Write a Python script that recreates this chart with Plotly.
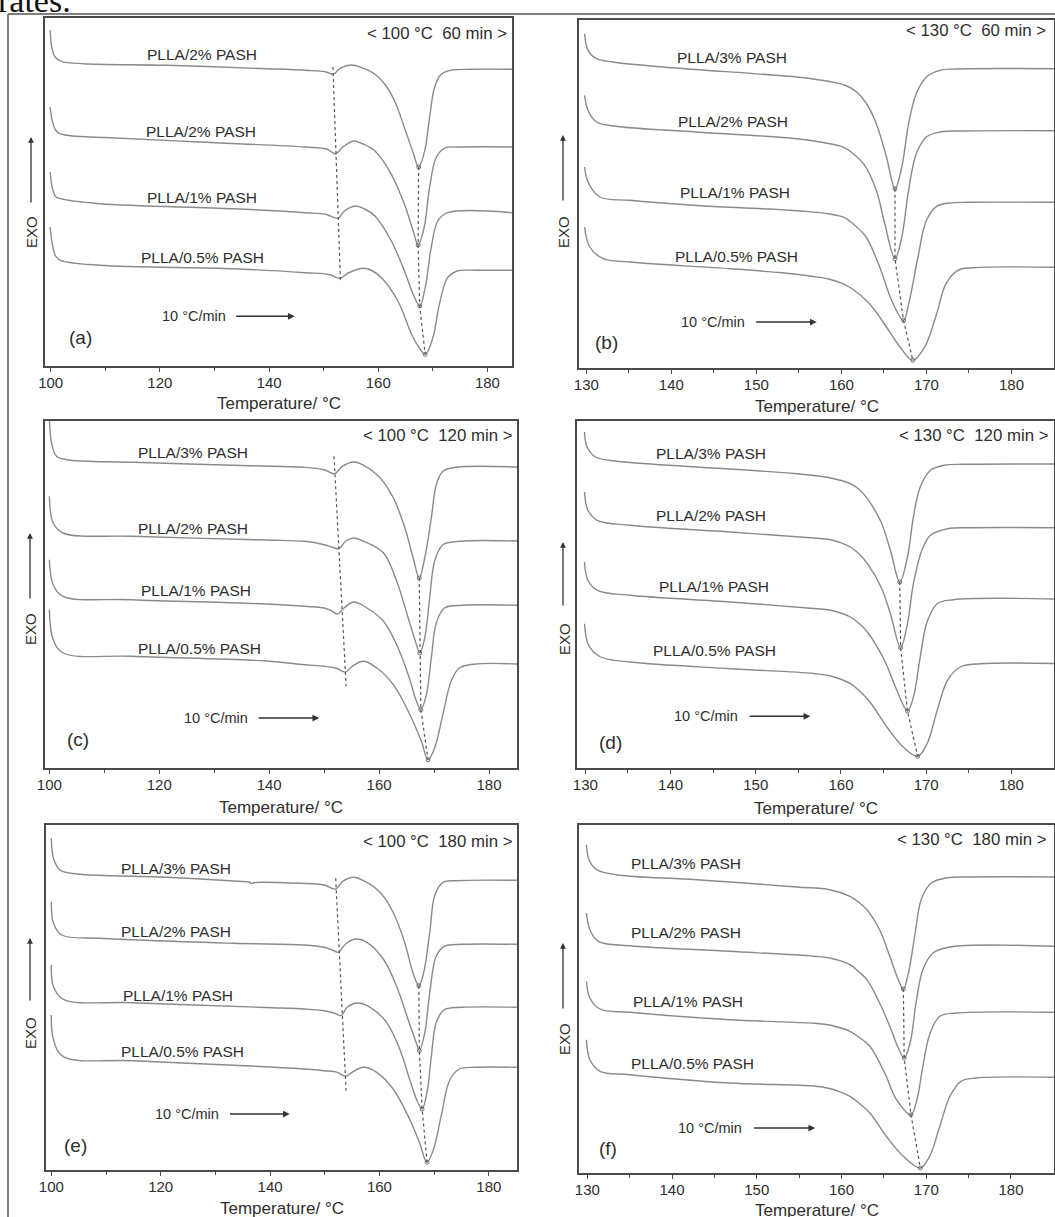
import plotly.graph_objects as go

# Heat-flow traces: temperature (°C) and signal (a.u., exo up), one pair per sample.
# (a) 100 °C / 60 min
A1_T = [99.9, 100.2, 100.8, 102.0, 106.0, 121.2, 139.5, 146.7, 150.3, 151.8, 153.0, 155.2, 157.0, 159.4, 161.2, 163.0, 164.8, 166.4, 167.4, 168.5, 169.4, 170.3, 171.5, 173.3, 177.0, 184.5]
A1_Y = [335.7, 319.0, 309.0, 304.7, 302.3, 300.7, 297.3, 295.7, 294.3, 291.7, 297.7, 301.0, 298.3, 291.7, 281.7, 265.0, 238.3, 213.3, 199.0, 215.0, 248.3, 278.3, 291.7, 295.7, 296.7, 296.7]
A2_T = [99.9, 100.3, 100.9, 101.7, 104.0, 110.0, 127.3, 146.7, 150.5, 152.2, 153.5, 155.5, 157.2, 159.4, 162.4, 164.8, 166.4, 167.3, 168.4, 169.4, 170.6, 172.1, 175.8, 184.5]
A2_Y = [259.0, 245.0, 236.0, 232.3, 230.0, 228.5, 224.0, 219.0, 217.0, 212.3, 219.0, 225.0, 222.0, 215.0, 191.7, 161.7, 135.0, 121.0, 138.3, 178.3, 208.3, 217.7, 219.0, 219.0]
A3_T = [99.9, 100.3, 100.9, 101.8, 109.0, 133.4, 146.7, 150.5, 152.6, 153.8, 155.8, 157.5, 159.4, 162.4, 164.8, 166.4, 167.6, 168.6, 169.7, 170.9, 172.7, 184.5]
A3_Y = [194.0, 178.0, 169.5, 167.3, 162.3, 157.3, 153.3, 151.5, 147.7, 155.0, 160.0, 157.0, 150.0, 125.0, 95.0, 71.7, 60.0, 78.3, 118.3, 145.0, 153.3, 153.3]
A4_T = [99.9, 100.3, 100.9, 101.8, 109.0, 133.4, 146.7, 151.0, 153.0, 154.5, 157.3, 158.8, 160.6, 163.6, 166.1, 167.3, 168.6, 170.0, 171.2, 172.7, 174.5, 178.2, 184.5]
A4_Y = [139.0, 122.0, 110.0, 105.7, 100.7, 97.3, 93.3, 91.5, 87.7, 93.0, 97.7, 95.5, 88.3, 65.0, 31.7, 20.0, 11.7, 28.3, 61.7, 88.3, 95.0, 95.7, 95.7]
A_DIP_T = [151.7, 153.1]
A_DIP_Y = [299.0, 83.0]

# (b) 130 °C / 60 min
B1_T = [129.8, 130.2, 131.2, 133.1, 139.0, 150.8, 155.0, 158.6, 160.5, 161.8, 162.9, 164.1, 165.3, 166.3, 167.1, 167.9, 168.8, 170.0, 171.6, 173.5, 185.0]
B1_Y = [334.3, 317.7, 309.3, 306.0, 301.0, 293.7, 290.8, 286.5, 282.5, 276.0, 265.0, 244.3, 211.0, 179.3, 201.0, 244.3, 274.3, 291.0, 297.7, 299.0, 299.3]
B2_T = [129.8, 130.2, 131.2, 133.5, 142.9, 154.7, 158.6, 160.2, 161.6, 162.6, 164.1, 165.1, 166.3, 167.1, 167.9, 168.8, 170.0, 171.6, 174.3, 185.0]
B2_Y = [272.7, 257.7, 246.0, 241.7, 236.0, 229.3, 224.3, 220.8, 212.8, 204.3, 177.7, 144.3, 109.3, 131.0, 177.7, 214.3, 231.0, 236.0, 237.0, 237.3]
B3_T = [129.8, 130.2, 131.6, 135.1, 143.0, 150.8, 155.5, 158.6, 160.3, 161.6, 162.9, 164.5, 165.9, 167.3, 168.0, 169.0, 170.0, 171.2, 172.7, 175.1, 185.0]
B3_Y = [201.0, 186.0, 171.0, 167.7, 162.5, 159.3, 156.8, 154.0, 150.6, 142.5, 131.0, 101.0, 67.7, 47.7, 67.7, 111.0, 147.7, 161.7, 165.0, 165.7, 165.7]
B4_T = [129.8, 130.4, 132.0, 135.1, 146.9, 153.0, 156.7, 158.6, 160.0, 161.3, 163.3, 165.3, 166.9, 168.4, 169.8, 171.2, 172.3, 173.7, 175.5, 185.0]
B4_Y = [141.0, 121.0, 109.3, 106.0, 99.3, 95.2, 91.5, 88.8, 84.8, 79.0, 64.3, 41.0, 21.0, 7.7, 21.0, 54.3, 84.3, 97.7, 100.3, 100.7]

# (c) 100 °C / 120 min
C1_T = [100.0, 100.4, 101.3, 103.2, 115.3, 136.5, 146.4, 150.0, 151.9, 153.3, 155.4, 157.2, 160.2, 162.6, 164.7, 166.2, 167.3, 168.3, 169.5, 170.4, 171.6, 174.0, 185.1]
C1_Y = [350.0, 325.0, 311.7, 308.3, 305.7, 302.3, 300.7, 298.3, 294.3, 301.7, 306.0, 302.7, 290.0, 270.0, 240.0, 210.0, 190.0, 210.0, 250.0, 283.3, 296.7, 300.7, 301.0]
C2_T = [100.0, 100.7, 102.5, 115.0, 139.5, 146.4, 150.0, 151.5, 152.7, 153.9, 155.4, 157.2, 160.8, 163.2, 165.3, 166.8, 167.4, 168.3, 169.2, 170.1, 171.6, 174.6, 185.1]
C2_Y = [271.7, 245.0, 235.0, 231.7, 228.0, 226.7, 223.3, 220.7, 219.3, 226.7, 230.0, 226.7, 215.0, 186.7, 150.0, 123.3, 115.0, 130.0, 170.0, 206.7, 223.3, 226.7, 227.0]
C3_T = [100.0, 100.7, 102.5, 115.0, 139.5, 146.4, 150.0, 151.5, 152.4, 153.6, 155.4, 157.8, 160.8, 163.2, 165.3, 166.8, 167.6, 168.6, 169.5, 170.4, 171.9, 175.2, 185.1]
C3_Y = [208.3, 183.3, 171.7, 168.3, 164.0, 161.7, 160.0, 156.7, 154.0, 160.0, 166.0, 160.0, 146.7, 123.3, 93.3, 66.7, 58.3, 73.3, 110.0, 145.0, 160.0, 162.7, 162.7]
C4_T = [100.0, 100.7, 102.5, 115.0, 139.5, 146.4, 150.0, 152.1, 153.9, 155.1, 157.2, 159.6, 162.6, 165.6, 167.7, 168.9, 170.1, 171.6, 173.1, 174.6, 177.6, 185.1]
C4_Y = [158.3, 128.3, 115.0, 111.7, 107.0, 103.3, 101.7, 100.0, 96.0, 101.7, 106.7, 100.0, 83.3, 53.3, 26.7, 8.3, 20.0, 53.3, 86.7, 100.0, 104.0, 104.0]
C_DIP_T = [151.8, 154.0]
C_DIP_Y = [311.7, 81.7]

# (d) 130 °C / 120 min
D1_T = [129.9, 130.2, 131.2, 133.7, 143.1, 154.8, 158.8, 161.1, 162.2, 163.1, 164.7, 165.8, 166.9, 167.8, 168.5, 169.3, 170.5, 172.1, 174.4, 185.0]
D1_Y = [336.0, 321.0, 311.0, 306.7, 301.0, 294.3, 290.0, 284.3, 278.0, 269.3, 246.0, 217.7, 186.0, 211.0, 251.0, 281.0, 297.7, 302.7, 303.7, 304.0]
D2_T = [129.9, 130.3, 131.4, 135.3, 147.0, 156.8, 158.8, 161.1, 162.2, 163.1, 164.7, 165.8, 167.0, 167.8, 168.5, 169.5, 170.5, 172.5, 175.2, 185.0]
D2_Y = [276.0, 257.7, 247.7, 242.7, 236.0, 230.0, 228.3, 221.0, 213.5, 204.3, 181.0, 154.3, 120.3, 144.3, 184.3, 217.7, 232.7, 239.3, 240.3, 240.3]
D3_T = [129.9, 130.3, 131.4, 135.3, 147.0, 156.8, 158.8, 161.1, 162.2, 163.1, 165.1, 166.4, 167.8, 168.5, 169.3, 170.1, 171.3, 173.2, 185.0]
D3_Y = [206.0, 187.7, 177.7, 172.7, 166.0, 159.5, 157.7, 151.0, 144.0, 136.0, 107.7, 81.0, 57.0, 71.0, 111.0, 146.0, 164.3, 168.3, 169.0]
D4_T = [129.9, 130.4, 131.8, 135.3, 147.0, 156.8, 158.8, 161.1, 162.3, 163.4, 165.4, 167.3, 169.0, 170.1, 171.3, 172.5, 174.0, 176.4, 185.0]
D4_Y = [144.3, 122.7, 111.0, 106.0, 99.3, 94.5, 92.0, 84.3, 76.0, 66.0, 41.0, 21.0, 11.7, 24.3, 57.7, 87.7, 101.0, 104.3, 104.5]

# (e) 100 °C / 180 min
E1_T = [100.0, 100.4, 101.6, 104.7, 121.1, 135.7, 136.2, 136.6, 137.2, 145.5, 149.9, 152.0, 153.2, 155.3, 157.1, 160.1, 162.5, 164.6, 166.1, 167.2, 168.1, 169.2, 170.1, 171.6, 174.0, 185.1]
E1_Y = [331.7, 311.7, 300.0, 296.0, 292.7, 288.3, 288.0, 286.5, 287.5, 286.7, 285.0, 281.0, 288.3, 292.7, 289.3, 277.7, 257.7, 227.7, 197.7, 184.3, 197.7, 237.7, 274.3, 287.7, 289.3, 289.7]
E2_T = [100.0, 100.4, 101.9, 108.9, 133.3, 146.3, 149.9, 151.4, 152.5, 153.8, 155.6, 157.7, 160.7, 163.1, 165.2, 166.7, 167.3, 168.3, 169.2, 170.4, 171.9, 175.2, 185.1]
E2_Y = [268.3, 246.7, 235.0, 231.7, 226.7, 225.0, 222.7, 220.0, 217.7, 226.0, 231.0, 227.7, 211.0, 184.3, 151.0, 127.7, 119.3, 137.7, 177.7, 214.3, 223.7, 225.7, 225.7]
E3_T = [100.0, 100.4, 102.2, 114.9, 139.2, 146.3, 149.9, 151.7, 153.0, 154.1, 155.9, 158.3, 161.3, 163.7, 165.5, 167.0, 167.8, 168.7, 169.5, 170.4, 171.9, 175.2, 185.1]
E3_Y = [205.0, 183.3, 170.7, 167.3, 162.5, 161.0, 159.3, 157.0, 154.3, 162.7, 167.0, 162.7, 147.7, 121.0, 91.0, 67.7, 61.0, 77.7, 114.3, 147.7, 160.3, 162.7, 162.7]
E4_T = [100.0, 100.4, 102.2, 114.9, 139.2, 146.3, 149.9, 152.3, 153.8, 155.0, 157.1, 159.5, 162.5, 165.5, 167.3, 168.7, 169.9, 171.3, 172.8, 174.6, 177.6, 185.1]
E4_Y = [155.0, 130.0, 113.3, 109.3, 103.3, 101.0, 99.3, 97.7, 93.7, 97.7, 102.7, 97.7, 81.0, 51.0, 27.7, 7.7, 21.0, 54.3, 89.3, 101.0, 102.7, 102.7]
E_DIP_T = [152.0, 153.9]
E_DIP_Y = [291.7, 79.3]

# (f) 130 °C / 180 min
F1_T = [129.9, 130.2, 131.1, 133.4, 142.9, 154.7, 158.6, 161.0, 162.0, 163.0, 164.5, 165.7, 166.7, 167.3, 167.9, 168.7, 169.4, 170.6, 172.4, 175.2, 185.1]
F1_Y = [328.3, 313.3, 303.3, 298.3, 293.3, 286.0, 283.3, 276.7, 271.0, 263.3, 243.3, 216.7, 193.3, 184.0, 200.0, 240.0, 273.3, 290.0, 295.0, 296.0, 296.0]
F2_T = [129.9, 130.3, 131.3, 135.0, 146.8, 156.7, 158.6, 161.0, 162.0, 163.0, 164.5, 165.7, 166.7, 167.4, 168.1, 168.8, 169.6, 170.8, 172.8, 185.1]
F2_Y = [260.0, 243.3, 231.7, 227.3, 221.7, 216.8, 215.0, 208.3, 201.5, 193.3, 170.0, 146.7, 125.0, 115.0, 130.0, 170.0, 203.3, 220.0, 226.0, 226.7]
F3_T = [129.9, 130.3, 131.5, 135.0, 146.8, 156.7, 158.6, 161.0, 162.2, 163.35, 165.1, 166.5, 168.2, 168.9, 169.6, 170.4, 171.6, 173.6, 185.1]
F3_Y = [191.7, 175.0, 164.0, 160.7, 153.3, 149.8, 148.0, 141.7, 135.0, 126.7, 100.0, 73.3, 58.3, 73.3, 106.7, 138.3, 156.7, 160.0, 160.7]
F4_T = [129.9, 130.3, 131.5, 135.0, 146.8, 156.7, 158.6, 159.8, 161.0, 162.2, 163.35, 165.3, 167.3, 169.3, 170.4, 171.6, 172.8, 174.1, 175.9, 185.1]
F4_Y = [133.3, 113.3, 101.7, 98.3, 90.0, 87.0, 84.5, 81.2, 76.7, 69.0, 60.0, 36.7, 16.7, 5.0, 16.7, 46.7, 76.7, 91.7, 95.0, 95.7]

# Text
LABELS_A = ["PLLA/2% PASH", "PLLA/2% PASH", "PLLA/1% PASH", "PLLA/0.5% PASH"]
LABELS = ["PLLA/3% PASH", "PLLA/2% PASH", "PLLA/1% PASH", "PLLA/0.5% PASH"]
CONDITIONS = ["< 100 °C\u00a0 60 min >", "< 130 °C\u00a0 60 min >", "< 100 °C\u00a0 120 min >",
              "< 130 °C\u00a0 120 min >", "< 100 °C\u00a0 180 min >", "< 130 °C\u00a0 180 min >"]
TAGS = ["(a)", "(b)", "(c)", "(d)", "(e)", "(f)"]
RATE_TEXT = "10 °C/min"
X_TITLE = "Temperature/ °C"
Y_TITLE = "EXO"
TICKS_100 = [100, 120, 140, 160, 180]
MINOR_100 = [110, 130, 150, 170]
TICKS_130 = [130, 140, 150, 160, 170, 180]
MINOR_130 = [135, 145, 155, 165, 175]

# ---------------------------------------------------------------------------
W, H = 1055, 1217
FONT = "Liberation Sans, Arial, sans-serif"
TXT = "#2e2e2e"
CURVE = "#8a8a8a"
FRAME = "#4a4a4a"

# Panel geometry in page pixels (left, top, right, bottom) and layout of texts
panels = [
    dict(box=(45, 18, 512, 366), xr=(98.96, 184.5), ticks=TICKS_100, minor=MINOR_100,
         curves=[(A1_T, A1_Y), (A2_T, A2_Y), (A3_T, A3_Y), (A4_T, A4_Y)], dip=(A_DIP_T, A_DIP_Y),
         labels=LABELS_A, label_xy=[(127.8, 311.3), (127.5, 234.7), (127.8, 169.0), (127.8, 109.0)],
         cond_xy=(184.0, 332.3), tag_xy=(105.5, 29.0), rate_xy=(126.2, 49.7), arrow=(133.7, 144.7),
         exo=(32, 232), exo_arrow=(31, 204, 137), title_y=404),
    dict(box=(579, 20, 1054, 368), xr=(129.14, 185.0), ticks=TICKS_130, minor=MINOR_130,
         curves=[(B1_T, B1_Y), (B2_T, B2_Y), (B3_T, B3_Y), (B4_T, B4_Y)], dip=None,
         labels=LABELS, label_xy=[(147.1, 310.3), (147.3, 247.0), (147.5, 176.0), (147.7, 112.0)],
         cond_xy=(184.3, 337.7), tag_xy=(132.4, 26.0), rate_xy=(144.9, 46.0), arrow=(149.8, 157.1),
         exo=(564, 232), exo_arrow=(563, 202, 135), title_y=406),
    dict(box=(45, 421, 517, 768), xr=(99.21, 185.09), ticks=TICKS_100, minor=MINOR_100,
         curves=[(C1_T, C1_Y), (C2_T, C2_Y), (C3_T, C3_Y), (C4_T, C4_Y)], dip=(C_DIP_T, C_DIP_Y),
         labels=LABELS, label_xy=[(126.1, 315.7), (126.2, 240.0), (126.7, 177.7), (127.3, 120.0)],
         cond_xy=(184.6, 332.3), tag_xy=(105.2, 28.3), rate_xy=(130.4, 50.0), arrow=(137.8, 149.1),
         exo=(30, 629), exo_arrow=(30, 600, 533), title_y=807),
    dict(box=(577, 421, 1054, 768), xr=(129.02, 185.0), ticks=TICKS_130, minor=MINOR_130,
         curves=[(D1_T, D1_Y), (D2_T, D2_Y), (D3_T, D3_Y), (D4_T, D4_Y)], dip=None,
         labels=LABELS, label_xy=[(144.8, 314.3), (144.8, 252.7), (145.1, 181.7), (145.1, 117.7)],
         cond_xy=(184.5, 332.7), tag_xy=(132.9, 26.0), rate_xy=(144.2, 51.7), arrow=(149.1, 156.4),
         exo=(564, 639), exo_arrow=(563, 607, 542), title_y=808),
    dict(box=(46, 825, 517, 1170), xr=(99.03, 185.15), ticks=TICKS_100, minor=MINOR_100,
         curves=[(E1_T, E1_Y), (E2_T, E2_Y), (E3_T, E3_Y), (E4_T, E4_Y)], dip=(E_DIP_T, E_DIP_Y),
         labels=LABELS, label_xy=[(122.8, 301.7), (122.8, 238.3), (123.2, 175.0), (123.9, 118.3)],
         cond_xy=(184.6, 328.3), tag_xy=(104.4, 25.0), rate_xy=(124.8, 56.0), arrow=(132.4, 143.6),
         exo=(30, 1033), exo_arrow=(30, 1002, 938), title_y=1208),
    dict(box=(579, 825, 1054, 1173), xr=(129.02, 185.08), ticks=TICKS_130, minor=MINOR_130,
         curves=[(F1_T, F1_Y), (F2_T, F2_Y), (F3_T, F3_Y), (F4_T, F4_Y)], dip=None,
         labels=LABELS, label_xy=[(141.6, 310.0), (141.6, 241.0), (141.9, 171.7), (142.4, 109.3)],
         cond_xy=(184.4, 334.0), tag_xy=(132.4, 25.0), rate_xy=(144.5, 45.0), arrow=(149.5, 156.9),
         exo=(564, 1039), exo_arrow=(563, 1010, 943), title_y=1210),
]

fig = go.Figure()
annotations = []
shapes = []
layout_axes = {}

for i, p in enumerate(panels):
    n = "" if i == 0 else str(i + 1)
    xa, ya = "x" + n, "y" + n
    left, top, right, bottom = p["box"]
    height = bottom - top

    for T, Y in p["curves"]:
        fig.add_trace(go.Scatter(x=T, y=Y, xaxis=xa, yaxis=ya, mode="lines",
                                 line=dict(color=CURVE, width=1.4, shape="spline", smoothing=1.0),
                                 hoverinfo="skip", showlegend=False))

    # dotted guide through the melting minima of the four traces
    mins = [min(zip(Y, T)) for T, Y in p["curves"]]
    fig.add_trace(go.Scatter(x=[m[1] for m in mins], y=[m[0] for m in mins], xaxis=xa, yaxis=ya,
                             mode="lines+markers",
                             line=dict(color="#555555", width=1.2, dash="dot"),
                             marker=dict(symbol="circle-open", size=4, color="#555555",
                                         line=dict(width=0.8)),
                             hoverinfo="skip", showlegend=False))
    if p["dip"]:
        fig.add_trace(go.Scatter(x=p["dip"][0], y=p["dip"][1], xaxis=xa, yaxis=ya, mode="lines",
                                 line=dict(color="#555555", width=1.2, dash="dot"),
                                 hoverinfo="skip", showlegend=False))

    layout_axes["xaxis" + n] = dict(
        domain=[left / W, right / W], range=list(p["xr"]), anchor=ya,
        showline=True, mirror=True, linecolor=FRAME, linewidth=1.6,
        showgrid=False, zeroline=False, automargin=False,
        tickmode="array", tickvals=p["ticks"], ticks="outside", ticklen=4, tickwidth=1.3,
        tickcolor=FRAME, ticklabelstandoff=-2,
        tickfont=dict(family=FONT, size=15, color=TXT),
        minor=dict(tickvals=p["minor"], ticks="outside", ticklen=3, tickwidth=1.2, tickcolor=FRAME),
    )
    layout_axes["yaxis" + n] = dict(
        domain=[1 - bottom / H, 1 - top / H], range=[0, height], anchor=xa,
        showline=True, mirror=True, linecolor=FRAME, linewidth=1.6, automargin=False,
        showgrid=False, zeroline=False, showticklabels=False, ticks="",
    )

    for text, (tx, ty) in zip(p["labels"], p["label_xy"]):
        annotations.append(dict(x=tx, y=ty, xref=xa, yref=ya, text=text, showarrow=False,
                                xanchor="center", yanchor="middle",
                                font=dict(family=FONT, size=15.5, color=TXT)))
    annotations.append(dict(x=p["cond_xy"][0], y=p["cond_xy"][1], xref=xa, yref=ya,
                            text=CONDITIONS[i], showarrow=False, xanchor="right", yanchor="middle",
                            font=dict(family=FONT, size=16.8, color=TXT)))
    annotations.append(dict(x=p["tag_xy"][0], y=p["tag_xy"][1], xref=xa, yref=ya,
                            text=TAGS[i], showarrow=False, xanchor="center", yanchor="middle",
                            font=dict(family=FONT, size=19, color=TXT)))
    annotations.append(dict(x=p["rate_xy"][0], y=p["rate_xy"][1], xref=xa, yref=ya,
                            text=RATE_TEXT, showarrow=False, xanchor="center", yanchor="middle",
                            font=dict(family=FONT, size=14.5, color=TXT)))
    a0, a1 = p["arrow"]
    annotations.append(dict(x=a1, y=p["rate_xy"][1], ax=a0, ay=p["rate_xy"][1],
                            xref=xa, yref=ya, axref=xa, ayref=ya, text="", showarrow=True,
                            arrowhead=2, arrowsize=0.9, arrowwidth=1.5, arrowcolor="#333333",
                            standoff=0, startstandoff=0))

    # vertical EXO label with its arrow
    ex, ey = p["exo"]
    annotations.append(dict(x=ex / W, y=1 - ey / H, xref="paper", yref="paper", text=Y_TITLE,
                            textangle=-90, showarrow=False, xanchor="center", yanchor="middle",
                            font=dict(family=FONT, size=15, color=TXT)))
    qx, q0, q1 = p["exo_arrow"]
    annotations.append(dict(x=qx / W, y=1 - q1 / H, xref="paper", yref="paper", text="",
                            showarrow=True, ax=0, ay=q0 - q1, arrowhead=2, arrowsize=0.9,
                            arrowwidth=1.3, arrowcolor="#333333", standoff=0))

    # x-axis title
    annotations.append(dict(x=(left + right) / 2 / W, y=1 - p["title_y"] / H,
                            xref="paper", yref="paper", text=X_TITLE, showarrow=False,
                            xanchor="center", yanchor="middle",
                            font=dict(family=FONT, size=17, color=TXT)))

# caption fragment at the page top
annotations.append(dict(x=-4 / W, y=1 - 21 / H, xref="paper", yref="paper", text="rates.",
                        showarrow=False, xanchor="left", yanchor="bottom",
                        font=dict(family="Liberation Serif, Times New Roman, serif", size=34,
                                  color="#111111")))

# outer figure border (top and left edges)
shapes.append(dict(type="line", xref="paper", yref="paper", x0=8 / W, x1=1.01, y0=1 - 14 / H,
                   y1=1 - 14 / H, line=dict(color="#555555", width=1.5)))
shapes.append(dict(type="line", xref="paper", yref="paper", x0=8 / W, x1=8 / W, y0=1 - 14 / H,
                   y1=-0.01, line=dict(color="#555555", width=1.5)))

fig.update_layout(
    width=W, height=H, margin=dict(l=0, r=0, t=0, b=0, autoexpand=False),
    paper_bgcolor="white", plot_bgcolor="white", showlegend=False,
    annotations=annotations, shapes=shapes, **layout_axes,
)

fig.write_html("out.html")
